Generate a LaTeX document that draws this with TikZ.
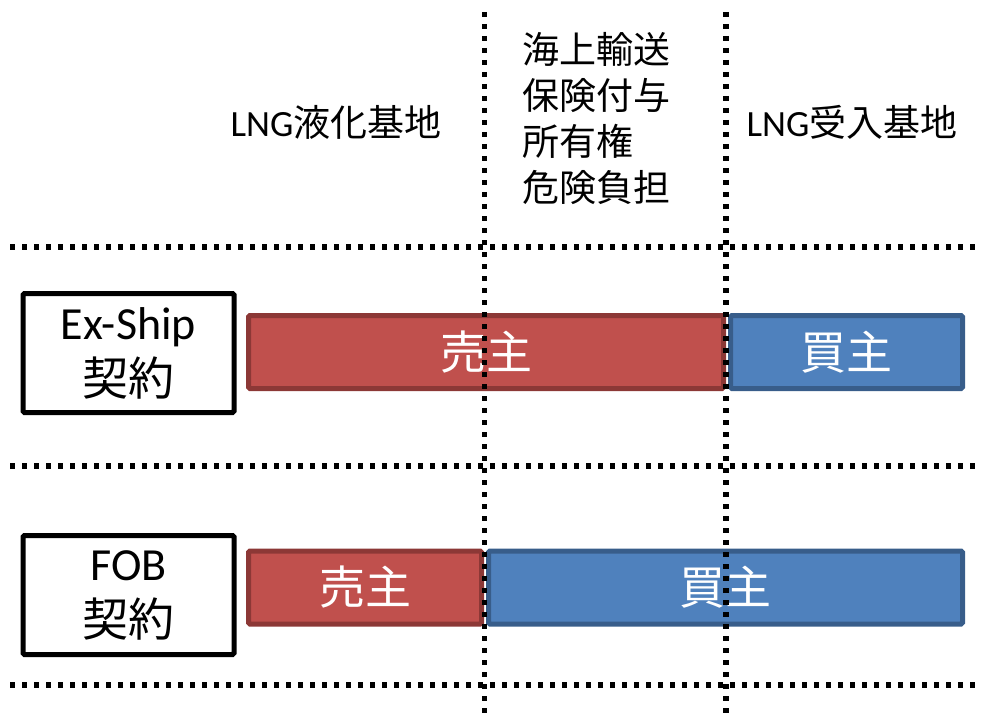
\documentclass[tikz,border=0pt]{standalone}
\usepackage{fontspec}
\setmainfont{Carlito}
\newfontfamily\cjk{Noto Sans CJK JP}
\definecolor{redfill}{HTML}{C0504D}
\definecolor{reddraw}{HTML}{8C3836}
\definecolor{bluefill}{HTML}{4F81BD}
\definecolor{bluedraw}{HTML}{385D8A}
\tikzset{
  dotline/.style={line width=5.5pt, dash pattern=on 5pt off 7pt},
  contract/.style={draw=black, line width=5pt, fill=white, rounded corners=1.5pt,
    minimum width=211pt, minimum height=119pt, inner sep=0pt, align=center,
    font=\fontsize{46}{56}\selectfont},
  seller/.style={draw=reddraw, fill=redfill, line width=5pt, rounded corners=1.5pt,
    minimum height=73pt, inner sep=0pt, text=white, font=\fontsize{46}{55}\selectfont\cjk},
  buyer/.style={draw=bluedraw, fill=bluefill, line width=5pt, rounded corners=1.5pt,
    minimum height=73pt, inner sep=0pt, text=white, font=\fontsize{46}{55}\selectfont\cjk},
  head/.style={inner sep=0pt, font=\fontsize{37}{46}\selectfont}
}
\begin{document}
\begin{tikzpicture}[x=1pt,y=-1pt]
\useasboundingbox (0,0) rectangle (982,714);
% headers
\node[head] (liq) at (336,122) {LNG{\cjk 液化基地}};
\node[head, align=left, font=\fontsize{37}{46}\selectfont\cjk] (mid) at (596,119) {海上輸送\\保険付与\\所有権\\危険負担};
\node[head] (rec) at (852,122) {LNG{\cjk 受入基地}};
% contract boxes
\node[contract] (ex) at (128.5,353) {Ex-Ship\\{\cjk 契約}};
\node[contract] (fob) at (128.5,595) {FOB\\{\cjk 契約}};
% bars
\node[seller, minimum width=475pt] (s1) at (486,352) {売主};
\node[buyer, minimum width=232pt] (b1) at (846.5,352) {買主};
\node[seller, minimum width=233pt] (s2) at (365,587.5) {売主};
\node[buyer, minimum width=474pt] (b2) at (725.5,587.5) {買主};
% dotted grid
\coordinate (h1a) at (10,247); \coordinate (h1b) at (982,247);
\coordinate (h2a) at (10,466); \coordinate (h2b) at (982,466);
\coordinate (h3a) at (10,685); \coordinate (h3b) at (982,685);
\coordinate (v1a) at (484.5,12); \coordinate (v1b) at (484.5,714);
\coordinate (v2a) at (726,12); \coordinate (v2b) at (726,714);
\draw[dotline] (h1a) -- (h1b);
\draw[dotline] (h2a) -- (h2b);
\draw[dotline] (h3a) -- (h3b);
\draw[dotline] (v1a) -- (v1b);
\draw[dotline] (v2a) -- (v2b);
\end{tikzpicture}
\end{document}
